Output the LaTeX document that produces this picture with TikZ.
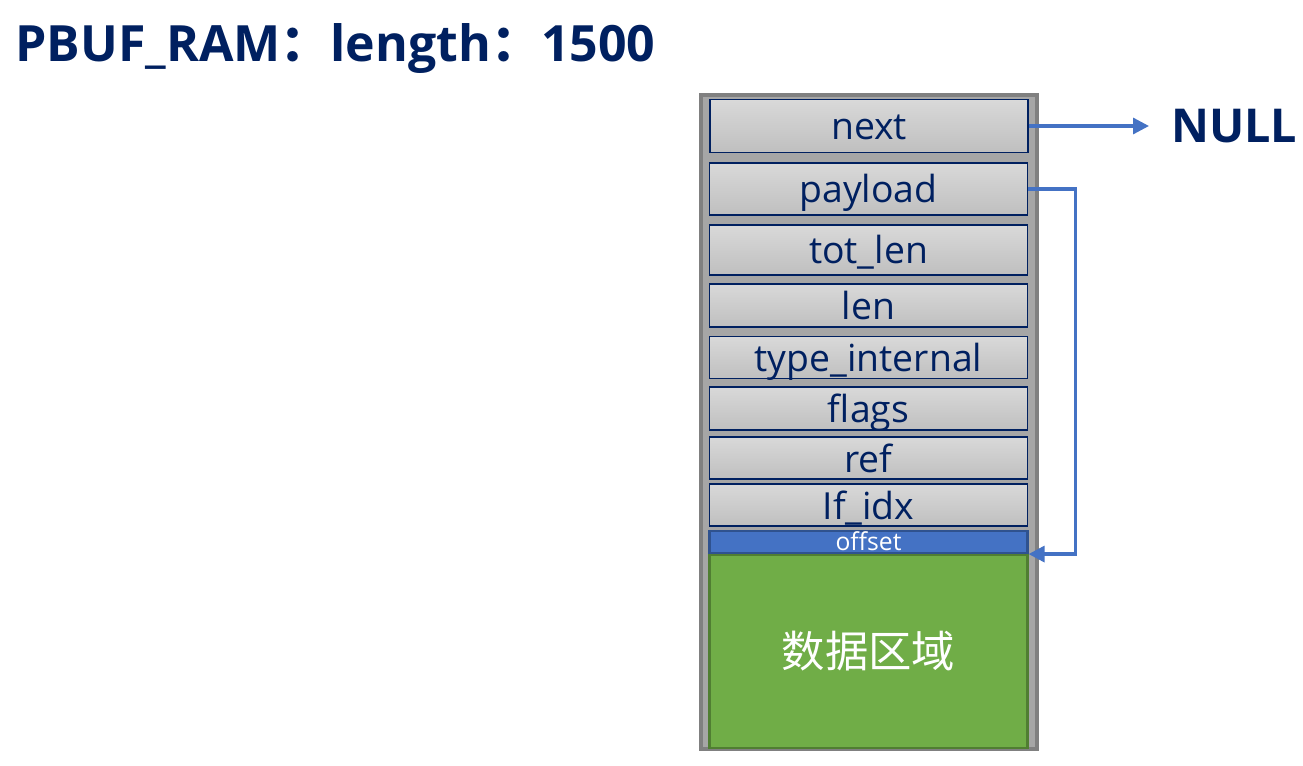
\documentclass[tikz,border=0pt]{standalone}
\usepackage{fontspec}
\setmainfont{Open Sans}
\newfontfamily\cjk{Noto Sans CJK SC}
\usetikzlibrary{arrows.meta}

\definecolor{navy}{HTML}{002060}
\definecolor{linkblue}{HTML}{4472C4}
\definecolor{offdark}{HTML}{2F528F}
\definecolor{datagreen}{HTML}{70AD47}
\definecolor{greendark}{HTML}{507E32}

\tikzset{
  field/.style={draw=navy, line width=0.9pt, top color=black!15, bottom color=black!25,
    text=navy, font=\fontsize{28}{30}\selectfont, minimum width=238.5pt, inner sep=0pt,
    text height=23pt, text depth=2pt},
  link/.style={draw=linkblue, line width=2.4pt, -{Triangle[length=12pt, width=12pt]}},
}

\begin{document}
\begin{tikzpicture}[x=0.75pt, y=-0.75pt]
\useasboundingbox (0,0) rectangle (1303,766);
% title
\node[anchor=base west, text=navy, inner sep=0pt, font=\fontsize{37.5}{40}\selectfont\bfseries] (title) at (15,62) {PBUF\_RAM{\cjk ：}length{\cjk ：}1500};
% pbuf frame
\node[draw=black!50, line width=2.4pt, fill=black!35, minimum width=252pt, minimum height=490.5pt, inner sep=0pt] (pbuf) at (869,422) {};
\node[field, minimum height=39.75pt] (next) at (869,126) {next};
\node[field, minimum height=39pt] (payload) at (868.5,189) {payload};
\node[field, minimum height=37.5pt] (totlen) at (868.5,250) {tot\_len};
\node[field, minimum height=32.25pt] (len) at (868.5,305.5) {len};
\node[field, minimum height=31.5pt] (type) at (868.5,357.5) {type\_internal};
\node[field, minimum height=32.25pt] (flags) at (868.5,408.5) {flags};
\node[field, minimum height=31.5pt] (ref) at (868.5,458) {ref};
\node[field, minimum height=31.5pt] (ifidx) at (868.5,505) {If\_idx};
\node[draw=offdark, line width=1.6pt, fill=linkblue, text=white, font=\fontsize{18.5}{19}\selectfont, minimum width=238.5pt, minimum height=16.5pt, inner sep=0pt, text height=13pt, text depth=1pt] (offset) at (868.5,542) {offset};
\node[draw=greendark, line width=1.6pt, fill=datagreen, text=white, font=\cjk\fontsize{32.5}{34}\selectfont, minimum width=238.5pt, minimum height=144.75pt, inner sep=0pt] (data) at (868.5,651.5) {数据区域};
% pointers
\node[anchor=west, text=navy, inner xsep=16.5pt, inner ysep=0pt, font=\fontsize{35}{37}\selectfont\bfseries] (nullref) at (1149,126) {NULL};
\draw[link] (next.east) -- (nullref.west);
\draw[link] (payload.east) -- ++(47,0) |- (offset.south east);
\end{tikzpicture}
\end{document}
